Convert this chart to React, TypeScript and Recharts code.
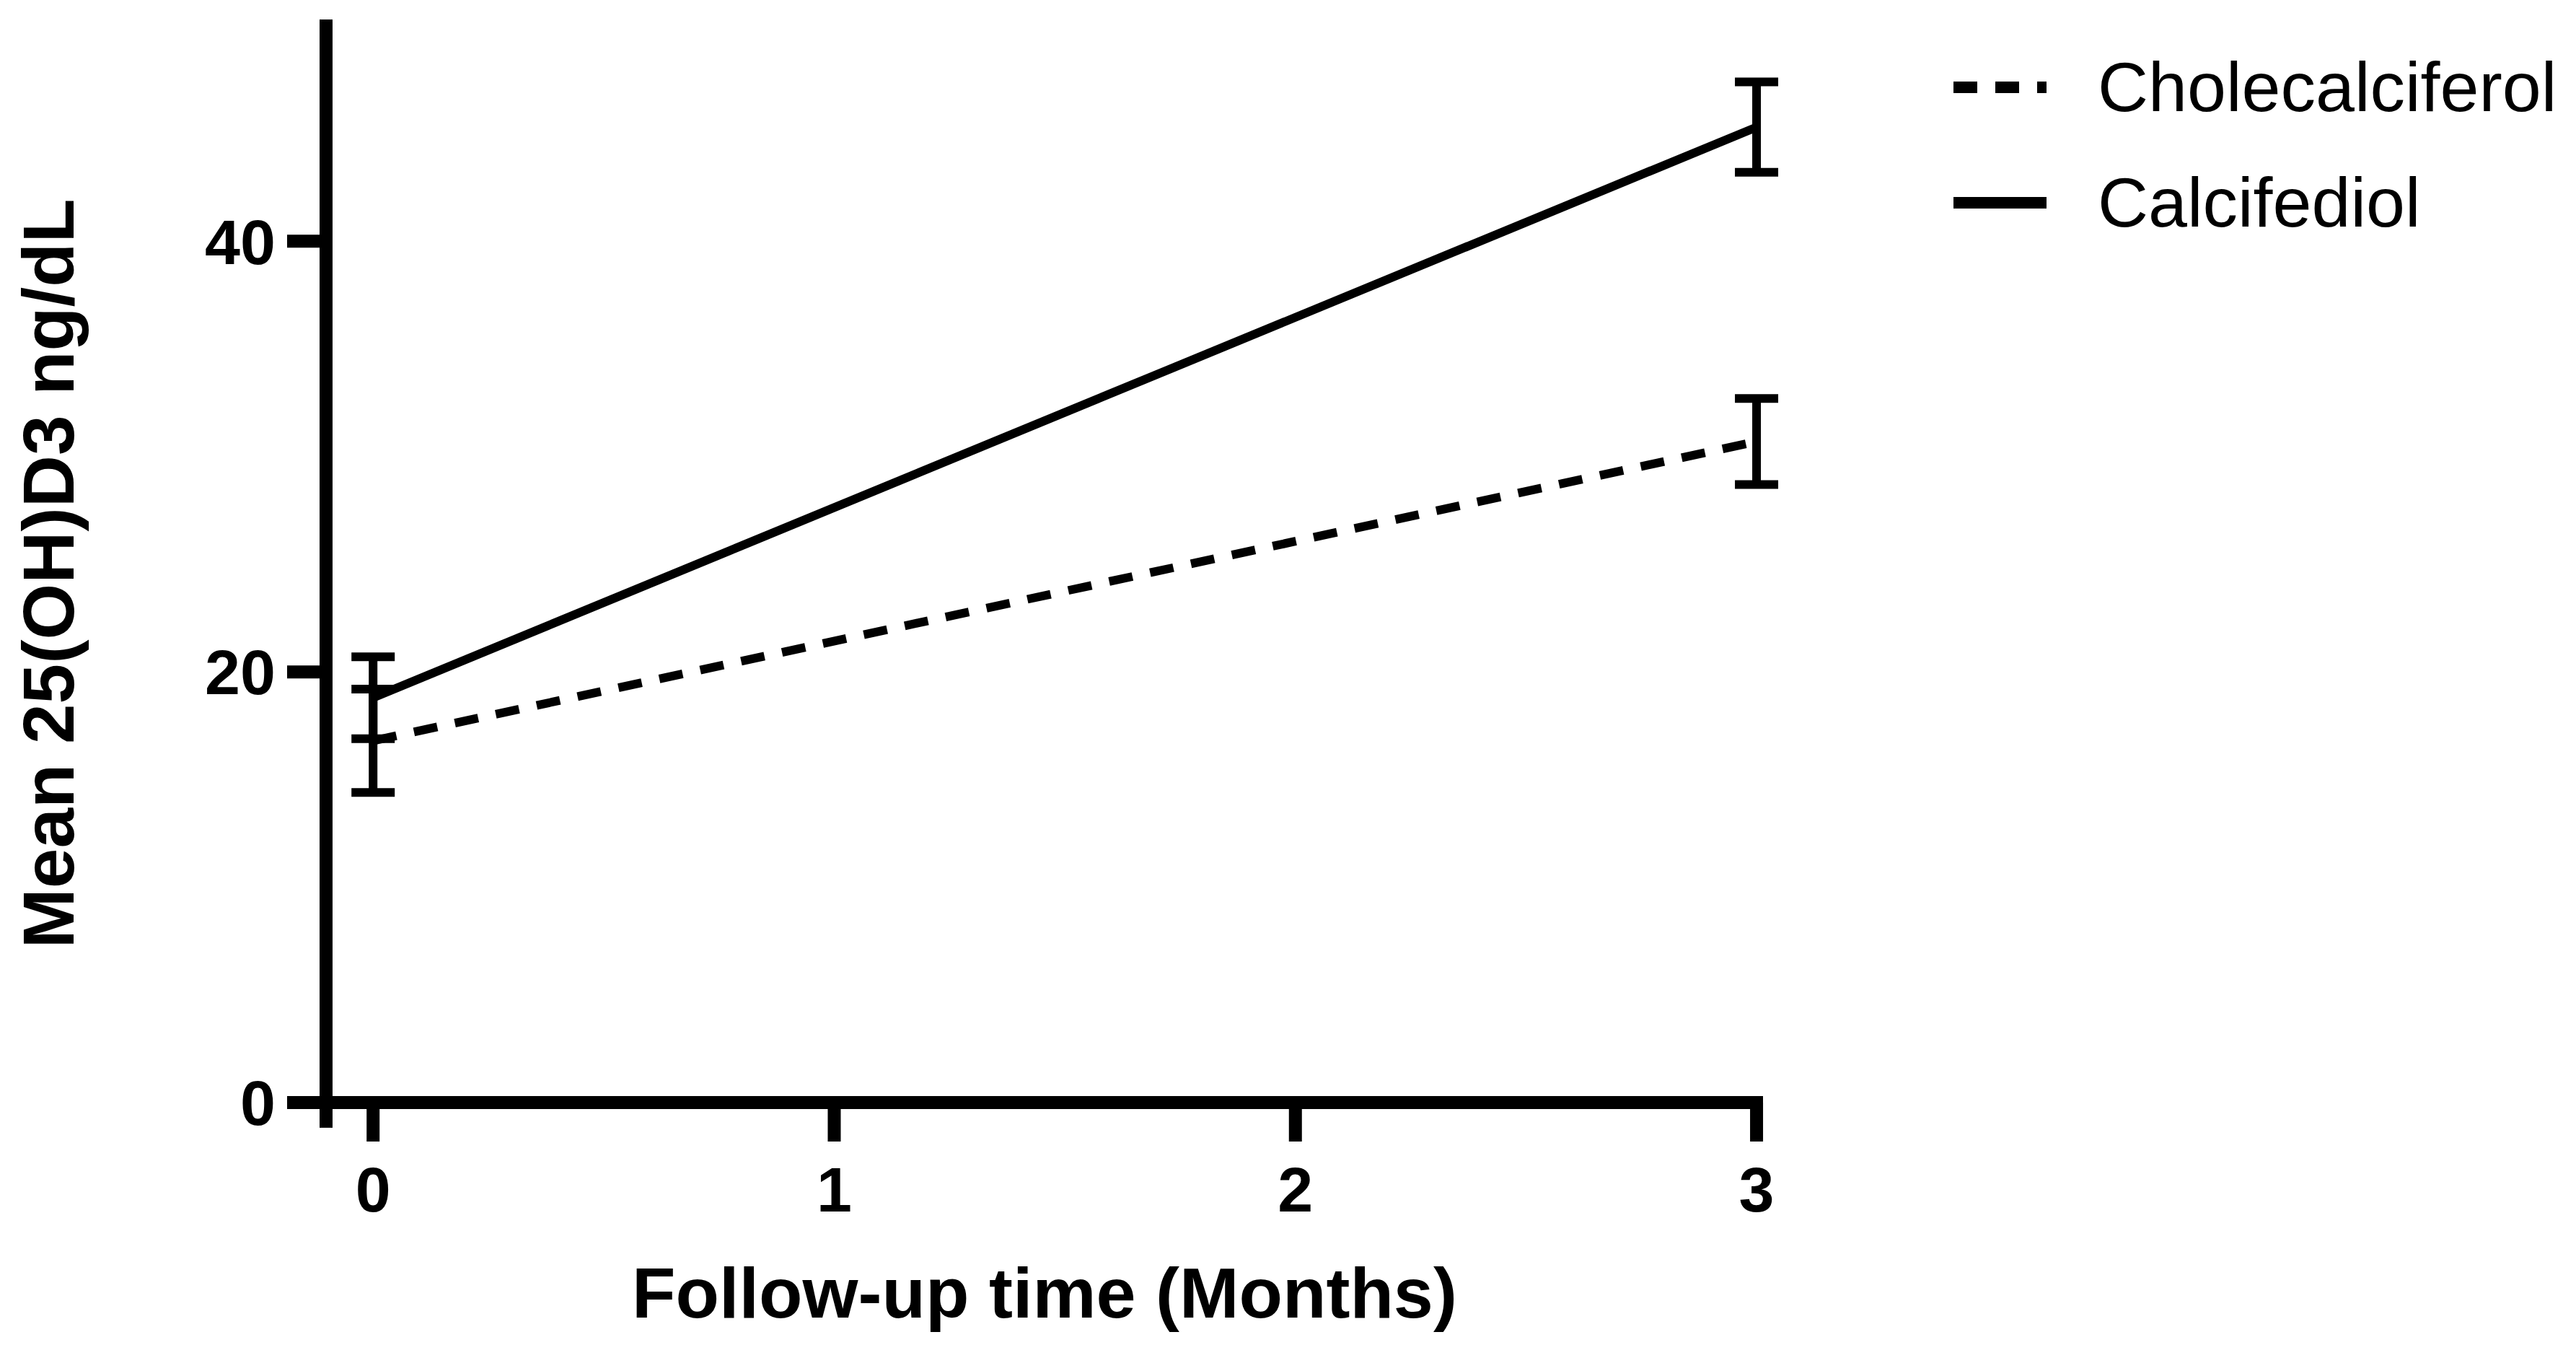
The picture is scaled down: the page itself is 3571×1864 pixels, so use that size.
import {
  ErrorBar,
  Legend,
  Line,
  LineChart,
  ReferenceLine,
  XAxis,
  YAxis,
} from "recharts";

// follow-up months and group means / error (SEM)
const months = [0, 3];
const cholecalciferolMean = [16.8, 30.7];
const cholecalciferolErr = [2.4, 2.0];
const calcifediolMean = [18.8, 45.3];
const calcifediolErr = [1.9, 2.1];

const seriesNames = ["Cholecalciferol", "Calcifediol"];
const xTicks = [0, 1, 2, 3];
const yTicks = [0, 20, 40];
const xTitle = "Follow-up time (Months)";
const yTitle = "Mean 25(OH)D3 ng/dL";

const data = months.map((m, i) => ({
  month: m,
  chole: cholecalciferolMean[i],
  choleErr: cholecalciferolErr[i],
  calci: calcifediolMean[i],
  calciErr: calcifediolErr[i],
}));

const FONT = "'Liberation Sans', Arial, Helvetica, sans-serif";
const CHART_W = 3555;
const CHART_H = 1848;
const MARGIN = { top: 19, right: 1119, bottom: 128, left: 0 };
const Y_AXIS_W = 444;
const X_AXIS_H = 200;
const PLOT_LEFT = MARGIN.left + Y_AXIS_W;
const PLOT_RIGHT = CHART_W - MARGIN.right;
const PLOT_BOTTOM = CHART_H - MARGIN.bottom - X_AXIS_H;

const X_DOMAIN: [number, number] = [-0.102, 3.014];
const Y_DOMAIN: [number, number] = [0, 50.3];
// prism style offset: y axis runs a bit below zero
const Y_AXIS_FOOT = -1.17;

const AXIS_STROKE = 18;
const LINE_STROKE = 12;
const DASH = "33 25";

const renderXTitle = () => (
  <text
    x={(PLOT_LEFT + PLOT_RIGHT) / 2}
    y={PLOT_BOTTOM + 298}
    textAnchor="middle"
    fontFamily={FONT}
    fontWeight="bold"
    fontSize={99}
    fill="#000"
  >
    {xTitle}
  </text>
);

const renderYTitle = () => {
  const x = 94;
  const y = 787;
  return (
    <text
      x={x}
      y={y}
      transform={`rotate(-90, ${x}, ${y})`}
      textAnchor="middle"
      fontFamily={FONT}
      fontWeight="bold"
      fontSize={100}
      fill="#000"
    >
      {yTitle}
    </text>
  );
};

const renderLegend = (props: any) => {
  const items = [...(props.payload || [])].sort(
    (a: any, b: any) => seriesNames.indexOf(a.value) - seriesNames.indexOf(b.value)
  );
  return (
    <div style={{ fontFamily: FONT }}>
      {items.map((entry: any) => (
        <div
          key={entry.value}
          style={{ display: "flex", alignItems: "center", height: 160 }}
        >
          <svg width={129} height={16} style={{ marginRight: 71, display: "block" }}>
            <line
              x1={0}
              y1={8}
              x2={129}
              y2={8}
              stroke="#000"
              strokeWidth={16}
              strokeDasharray={entry.payload?.strokeDasharray}
            />
          </svg>
          <span style={{ fontSize: 97, color: "#000", whiteSpace: "nowrap" }}>
            {entry.value}
          </span>
        </div>
      ))}
    </div>
  );
};

export default function App() {
  const tickStyle = { fontSize: 88, fontWeight: "bold", fill: "#000", fontFamily: FONT };
  const axisLine = { stroke: "#000", strokeWidth: AXIS_STROKE };

  return (
    <LineChart width={CHART_W} height={CHART_H} data={data} margin={MARGIN}>
      <XAxis
        dataKey="month"
        type="number"
        domain={X_DOMAIN}
        ticks={xTicks}
        interval={0}
        height={X_AXIS_H}
        tickSize={54}
        tickMargin={35}
        axisLine={axisLine}
        tickLine={axisLine}
        tick={tickStyle}
        label={{ value: xTitle, content: renderXTitle }}
      />
      <YAxis
        type="number"
        domain={Y_DOMAIN}
        ticks={yTicks}
        interval={0}
        width={Y_AXIS_W}
        tickSize={54}
        tickMargin={16}
        axisLine={axisLine}
        tickLine={axisLine}
        tick={tickStyle}
        label={{ value: yTitle, content: renderYTitle }}
      />
      <ReferenceLine
        segment={[
          { x: X_DOMAIN[0], y: 0 },
          { x: X_DOMAIN[0], y: Y_AXIS_FOOT },
        ]}
        stroke="#000"
        strokeWidth={AXIS_STROKE}
        ifOverflow="visible"
      />
      <Line
        name={seriesNames[0]}
        dataKey="chole"
        stroke="#000"
        strokeWidth={LINE_STROKE}
        strokeDasharray={DASH}
        dot={false}
        activeDot={false}
        isAnimationActive={false}
      >
        <ErrorBar
          dataKey="choleErr"
          direction="y"
          width={30}
          stroke="#000"
          strokeWidth={LINE_STROKE}
          isAnimationActive={false}
        />
      </Line>
      <Line
        name={seriesNames[1]}
        dataKey="calci"
        stroke="#000"
        strokeWidth={LINE_STROKE}
        dot={false}
        activeDot={false}
        isAnimationActive={false}
      >
        <ErrorBar
          dataKey="calciErr"
          direction="y"
          width={30}
          stroke="#000"
          strokeWidth={LINE_STROKE}
          isAnimationActive={false}
        />
      </Line>
      <Legend
        layout="vertical"
        align="center"
        verticalAlign="middle"
        content={renderLegend}
        wrapperStyle={{ position: "absolute", left: 2700, top: 33, width: 850, height: "auto" }}
      />
    </LineChart>
  );
}
